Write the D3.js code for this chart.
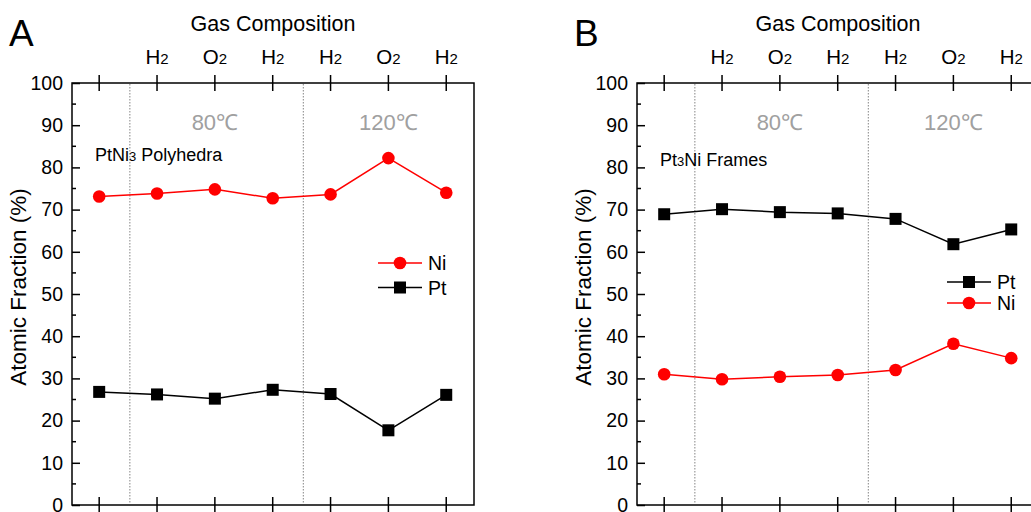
<!DOCTYPE html>
<html><head><meta charset="utf-8">
<script src="https://cdn.jsdelivr.net/npm/d3@7"></script>
<style>body{margin:0;background:#fff}svg{display:block;font-family:"Liberation Sans",Arial,sans-serif}</style>
</head><body>
<svg id="c" width="1031" height="512"></svg>
<script>
const steps = [0,1,2,3,4,5,6];
const gasLabels = ["", "H|2", "O|2", "H|2", "H|2", "O|2", "H|2"];
const yTicks = [0,10,20,30,40,50,60,70,80,90,100];
const dividers = [0.53, 3.53];
const temps = [{pos:2, label:"80℃"}, {pos:5, label:"120℃"}];

const niA = [73.1, 73.8, 74.8, 72.7, 73.6, 82.2, 74.0];
const ptA = [26.8, 26.2, 25.2, 27.3, 26.3, 17.7, 26.1];
const ptB = [68.9, 70.1, 69.4, 69.1, 67.8, 61.8, 65.3];
const niB = [31.0, 29.8, 30.4, 30.8, 32.0, 38.2, 34.8];

const panels = [
  {letter:"A", dx:0, title:["PtNi","3"," Polyhedra"], titleX:95, titleY:161,
   series:[{name:"Ni", values:niA, color:"#ff0000", shape:"circle"},
           {name:"Pt", values:ptA, color:"#000000", shape:"square"}],
   legendX:378, legendY:263, legendGap:24.5},
  {letter:"B", dx:565, title:["Pt","3","Ni Frames"], titleX:95, titleY:166,
   series:[{name:"Pt", values:ptB, color:"#000000", shape:"square"},
           {name:"Ni", values:niB, color:"#ff0000", shape:"circle"}],
   legendX:382, legendY:282, legendGap:21}
];

const svg = d3.select("#c");
const x0 = 72, x1 = 474, yTop = 83, yBot = 505;
const y = d3.scaleLinear().domain([0,100]).range([yBot, yTop]);
const FF = "Liberation Sans, Arial, sans-serif";

panels.forEach(p => {
  const g = svg.append("g").attr("transform", `translate(${p.dx},0)`);
  const x = d3.scaleLinear().domain([-0.47, 6.48]).range([x0, x1]);

  g.append("rect").attr("x", x0).attr("y", yTop).attr("width", x1-x0).attr("height", yBot-yTop)
    .attr("fill","none").attr("stroke","#000").attr("stroke-width",1.5);

  g.selectAll(".div").data(dividers).enter().append("line")
    .attr("x1", d=>x(d)).attr("x2", d=>x(d)).attr("y1", yTop+1).attr("y2", yBot-1)
    .attr("stroke","#999").attr("stroke-width",1.2).attr("stroke-dasharray","1.5,1.5");

  const ya = g.append("g").attr("transform", `translate(${x0},0)`)
    .call(d3.axisLeft(y).tickValues(yTicks).tickSize(-8).tickPadding(9).tickFormat(d3.format("d")));
  ya.select(".domain").remove();
  ya.selectAll(".tick line").attr("stroke","#000").attr("stroke-width",1.5);
  ya.selectAll(".tick text").attr("font-size",19.5).attr("fill","#000").attr("font-family",FF)
    .attr("x", -9);
  const minor = d3.range(5, 100, 10);
  g.selectAll(".minor").data(minor).enter().append("line")
    .attr("x1", x0).attr("x2", x0+4).attr("y1", d=>y(d)).attr("y2", d=>y(d))
    .attr("stroke","#000").attr("stroke-width",1.5);

  [yTop, yBot].forEach(yy => {
    g.selectAll(null).data(steps).enter().append("line")
      .attr("x1", d=>x(d)).attr("x2", d=>x(d)).attr("y1", yy-8).attr("y2", yy+8)
      .attr("stroke","#000").attr("stroke-width",1.5);
  });

  const tl = g.selectAll(".gl").data(steps).enter().append("text")
    .attr("x", d=>x(d)).attr("y", 64).attr("text-anchor","middle").attr("font-size",20.5).attr("fill","#000");
  tl.each(function(d,i){
    const parts = gasLabels[i].split("|");
    if (!parts[0]) return;
    const t = d3.select(this);
    t.append("tspan").text(parts[0]);
    t.append("tspan").attr("font-size",15).text(parts[1]);
  });

  g.append("text").attr("x", 273).attr("y", 31).attr("text-anchor","middle")
    .attr("font-size",21.5).attr("fill","#000").text("Gas Composition");
  g.append("text").attr("x", 9).attr("y", 46).attr("font-size",37).attr("fill","#000").text(p.letter);

  g.selectAll(".temp").data(temps).enter().append("text")
    .attr("x", d=>x(d.pos)).attr("y", 130).attr("text-anchor","middle")
    .attr("font-size",22).attr("fill","#a0a0a0").text(d=>d.label);

  g.append("text").attr("transform","translate(26,287) rotate(-90)").attr("text-anchor","middle")
    .attr("font-size",22.5).attr("fill","#000").text("Atomic Fraction (%)");

  const tt = g.append("text").attr("x", p.titleX).attr("y", p.titleY).attr("font-size",18).attr("fill","#000");
  tt.append("tspan").text(p.title[0]);
  tt.append("tspan").attr("font-size",13).text(p.title[1]);
  tt.append("tspan").text(p.title[2]);

  const line = d3.line().x((d,i)=>x(steps[i])).y(d=>y(d));
  p.series.forEach((s, si) => {
    g.append("path").attr("d", line(s.values)).attr("fill","none").attr("stroke", s.color).attr("stroke-width",1.5);
    drawMarkers(g, s, s.values.map((v,i)=>[x(steps[i]), y(v)]));
    const ly = p.legendY + si*p.legendGap;
    g.append("line").attr("x1", p.legendX).attr("x2", p.legendX+44).attr("y1", ly).attr("y2", ly)
      .attr("stroke", s.color).attr("stroke-width",1.5);
    drawMarkers(g, s, [[p.legendX+22, ly]]);
    g.append("text").attr("x", p.legendX+50).attr("y", ly+7).attr("font-size",19.5).attr("fill","#000").text(s.name);
  });
});

function drawMarkers(g, s, pts) {
  if (s.shape === "circle") {
    g.selectAll(null).data(pts).enter().append("circle")
      .attr("cx", d=>d[0]).attr("cy", d=>d[1]).attr("r", 6.3).attr("fill", s.color);
  } else {
    g.selectAll(null).data(pts).enter().append("rect")
      .attr("x", d=>d[0]-6).attr("y", d=>d[1]-6).attr("width", 12).attr("height", 12).attr("fill", s.color);
  }
}
</script>
</body></html>
